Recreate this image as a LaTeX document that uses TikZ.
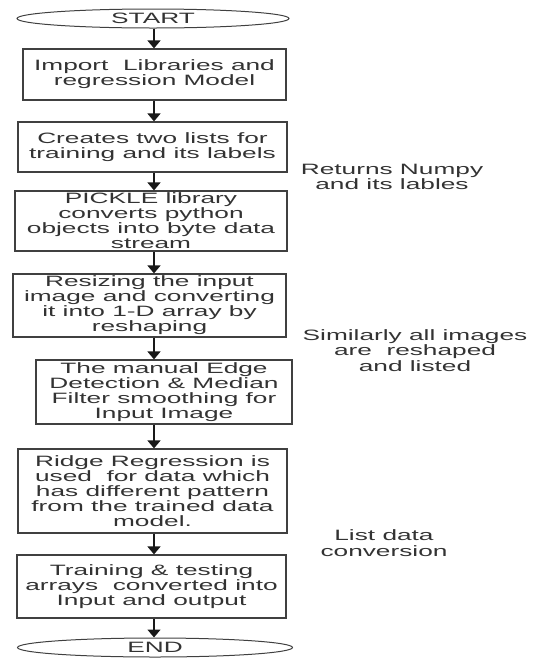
\documentclass[tikz,border=0pt]{standalone}
\usepackage{fontspec}
\setmainfont{Liberation Sans}[FakeStretch=1.75]
\usetikzlibrary{shapes,arrows.meta}

\begin{document}
\begin{tikzpicture}[x=1pt, y=-1pt,
    box/.style={draw=black!75, line width=1.2pt, inner sep=0pt, align=center,
        text=black!80, font=\fontsize{15}{15}\selectfont},
    oval/.style={ellipse, draw=black!75, line width=1pt, inner sep=0pt,
        minimum width=272pt, minimum height=19pt, text=black!80,
        font=\fontsize{15}{15}\selectfont},
    note/.style={align=center, text=black!80, font=\fontsize{15}{15.5}\selectfont},
    flow/.style={line width=1.6pt, black!90, -{Triangle[width=13pt,length=8pt]}}]
\useasboundingbox (0,0) rectangle (544,662);
\coordinate (spine) at (154,0);
% main column
\node[oval] (start) at (153,18.5) {START};
\node[box, minimum width=263pt, minimum height=51pt] (imp) at (154.5,74.5)
    {Import\ \ Libraries and\\regression Model};
\node[box, minimum width=269pt, minimum height=50pt] (lists) at (152.5,147)
    {Creates two lists for\\training and its labels};
\node[box, minimum width=272pt, minimum height=60pt] (pickle) at (151,221)
    {PICKLE library\\converts python\\objects into byte data\\stream};
\node[box, minimum width=273pt, minimum height=63pt] (resize) at (149.5,305.5)
    {Resizing the input\\image and converting\\it into 1-D array by\\reshaping};
\node[box, minimum width=256pt, minimum height=64pt] (edge) at (164,392)
    {The manual Edge\\Detection \& Median\\Filter smoothing for\\Input Image};
\node[box, minimum width=269pt, minimum height=84pt] (ridge) at (152.5,491)
    {Ridge Regression is\\used\ \ for data which\\has different pattern\\from the trained data\\model.};
\node[box, minimum width=269pt, minimum height=63pt] (train) at (151.5,586.5)
    {Training \& testing\\arrays\ \ converted into\\Input and output};
\node[oval, minimum width=275pt] (end) at (155,647.5) {END};
% side notes
\node[note] (numpy) at (392,177) {Returns Numpy\\and its lables};
\node[note] (similar) at (415,350.5) {Similarly all images\\are\ \ reshaped\\and listed};
\node[note] (listconv) at (384,543) {List data\\conversion};
% arrows
\draw[flow] (start.south -| spine) -- (imp.north -| spine);
\draw[flow] (imp.south -| spine) -- (lists.north -| spine);
\draw[flow] (lists.south -| spine) -- (pickle.north -| spine);
\draw[flow] (pickle.south -| spine) -- (resize.north -| spine);
\draw[flow] (resize.south -| spine) -- (edge.north -| spine);
\draw[flow] (edge.south -| spine) -- (ridge.north -| spine);
\draw[flow] (ridge.south -| spine) -- (train.north -| spine);
\draw[flow] (train.south -| spine) -- (end.north -| spine);
\end{tikzpicture}
\end{document}
